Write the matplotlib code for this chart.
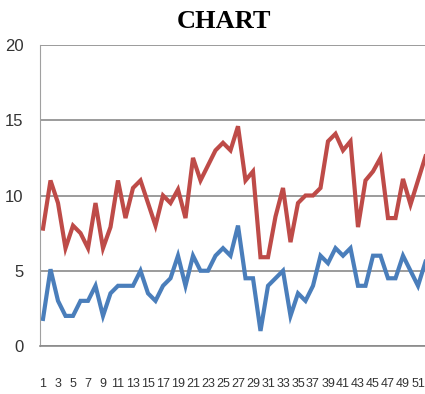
import matplotlib
matplotlib.use("Agg")
import matplotlib.pyplot as plt
import numpy as np

# categories 1..52 (only odd ones get a label)
categories = list(range(1, 53))

red_series = [7.8, 11.0, 9.5, 6.5, 8.0, 7.5, 6.5, 9.5, 6.5, 7.9,
              11.0, 8.5, 10.5, 11.0, 9.5, 8.0, 10.0, 9.5, 10.4, 8.5,
              12.5, 11.0, 12.0, 13.0, 13.5, 13.0, 14.6, 11.0, 11.6, 5.9,
              5.9, 8.6, 10.5, 6.9, 9.5, 10.0, 10.0, 10.5, 13.6, 14.1,
              13.0, 13.6, 7.9, 11.0, 11.6, 12.5, 8.5, 8.5, 11.1, 9.4,
              11.0, 12.6]

blue_series = [1.8, 5.1, 3.0, 2.0, 2.0, 3.0, 3.0, 4.0, 2.0, 3.5,
               4.0, 4.0, 4.0, 5.0, 3.5, 3.0, 4.0, 4.5, 6.0, 4.0,
               6.0, 5.0, 5.0, 6.0, 6.5, 6.0, 8.0, 4.5, 4.5, 1.0,
               4.0, 4.5, 5.0, 2.0, 3.5, 3.0, 4.0, 6.0, 5.5, 6.5,
               6.0, 6.5, 4.0, 4.0, 6.0, 6.0, 4.5, 4.5, 6.0, 5.0,
               4.0, 5.6]

y_ticks = [0, 5, 10, 15, 20]

plt.rcParams['font.family'] = ['Liberation Sans', 'DejaVu Sans']

fig = plt.figure(figsize=(4.25, 3.94), dpi=100)
ax = fig.add_axes([40 / 425, 48 / 394, 385 / 425, 301 / 394])

ax.plot(categories, red_series, color='#BE4B48', lw=3.0, solid_joinstyle='miter')
ax.plot(categories, blue_series, color='#4A7EBB', lw=3.0, solid_joinstyle='miter')

ax.set_xlim(0.6, 0.6 + 385 / 7.5)
ax.set_ylim(0, 20)

ax.set_yticks(y_ticks)
ax.set_yticklabels([str(v) for v in y_ticks], fontsize=12, color='#333333')
ax.set_xticks(categories[::2])
ax.set_xticklabels([str(c) for c in categories[::2]], fontsize=9, color='#333333')
ax.tick_params(axis='both', length=0)
ax.tick_params(axis='y', pad=12)
ax.tick_params(axis='x', pad=23)

ax.grid(axis='y', color='#8a8a8a', lw=1.2)
ax.set_axisbelow(True)
for side in ['top', 'right']:
    ax.spines[side].set_visible(False)
ax.spines['left'].set_color('#a0a0a0')
ax.spines['bottom'].set_color('#8a8a8a')
ax.spines['bottom'].set_linewidth(1.2)

fig.text(224 / 425, 1 - 21 / 394, 'CHART', ha='center', va='center',
         family='Liberation Serif', weight='bold', fontsize=19)

fig.savefig('out.png', dpi=100)
